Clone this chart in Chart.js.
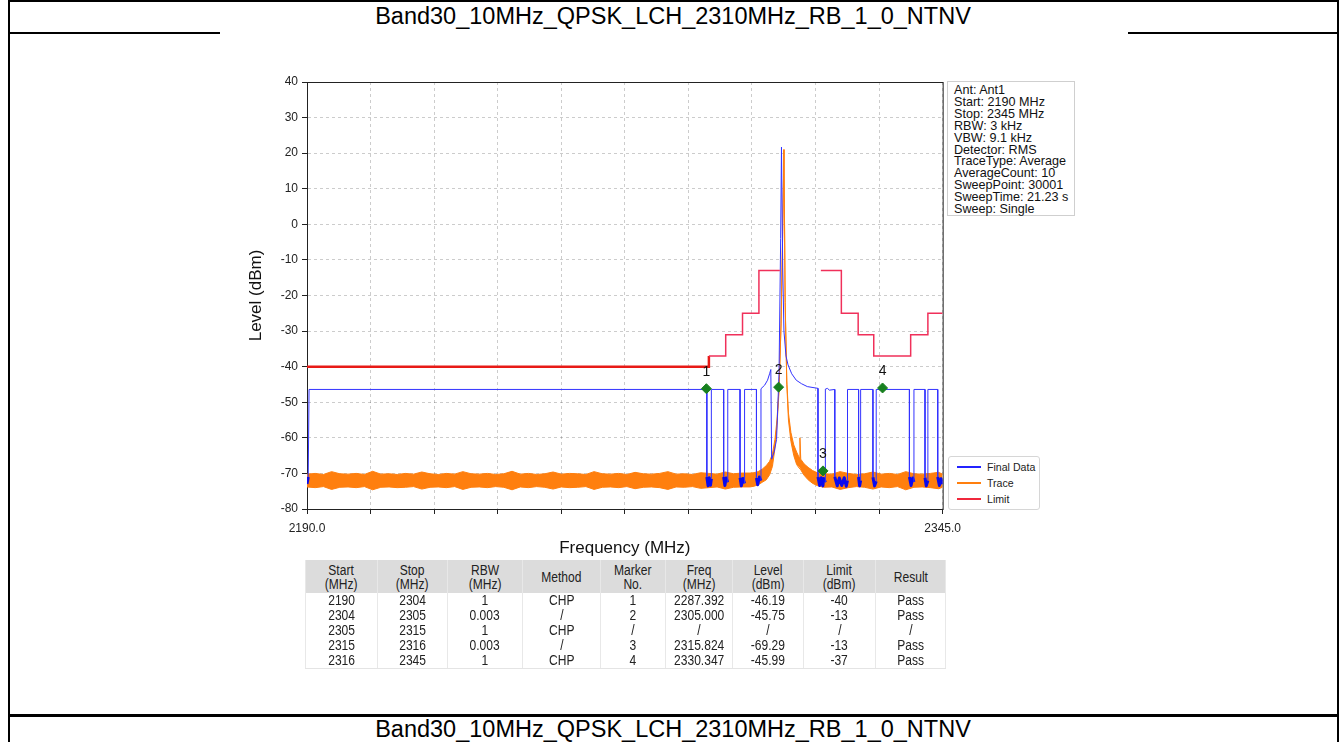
<!DOCTYPE html>
<html>
<head>
<meta charset="utf-8">
<script src="https://cdn.jsdelivr.net/npm/chart.js@4.4.1/dist/chart.umd.min.js"></script>
<style>
  html, body { margin: 0; padding: 0; background: #fff; }
  body { width: 1340px; height: 742px; position: relative; overflow: hidden; font-family: "Liberation Sans", Arial, sans-serif; }
  .line { position: absolute; background: #000; }
  .title { position: absolute; left: 9px; width: 1328px; text-align: center; font-size: 23.5px; line-height: 26px; color: #000; }
  #plotWrap { position: absolute; left: 228px; top: 70px; width: 740px; height: 495px; }
  #info { position: absolute; left: 947px; top: 81px; width: 128px; height: 135px; border: 1px solid #cfcfcf; background: #fff;
          font-size: 12.6px; line-height: 11.9px; padding: 3px 0 0 6px; box-sizing: border-box; color: #111; white-space: nowrap; }
  #legend { position: absolute; left: 948px; top: 456px; width: 92px; height: 54px; border: 1px solid #d6d6d6; border-radius: 3px;
            background: #fff; font-size: 10.6px; color: #222; box-sizing: border-box; }
  #legend .row { position: absolute; left: 0; height: 12px; }
  #legend .swatch { position: absolute; left: 8px; top: 5px; width: 24px; height: 2px; }
  #legend .lbl { position: absolute; left: 38px; top: 0; white-space: nowrap; }
  #tbl { position: absolute; left: 305px; top: 560px; width: 640px; border-collapse: collapse; table-layout: fixed;
         font-family: "Liberation Sans", Arial, sans-serif; font-size: 14px; color: #222; }
  #tbl th { background: #dcdcdc; font-weight: normal; line-height: 14px; height: 33px; padding: 0; border-left: 1px solid #e8e8e8; border-right: 1px solid #e8e8e8; }
  #tbl td { text-align: center; line-height: 15px; height: 15px; padding: 0; border-left: 1px solid #e8e8e8; border-right: 1px solid #e8e8e8; }
  #tbl span { display: inline-block; transform: scaleX(0.86); white-space: nowrap; }
  #tbl tbody tr:last-child td { border-bottom: 1px solid #e4e4e4; }
</style>
</head>
<body>
<div class="line" style="left:8px;top:0;width:1331px;height:2px"></div>
<div class="line" style="left:8px;top:0;width:2px;height:742px"></div>
<div class="line" style="left:1337px;top:0;width:2px;height:742px"></div>
<div class="line" style="left:8px;top:32px;width:212px;height:2px"></div>
<div class="line" style="left:1128px;top:32px;width:211px;height:2px"></div>
<div class="line" style="left:8px;top:714px;width:1331px;height:3px"></div>
<div class="title" style="top:3px">Band30_10MHz_QPSK_LCH_2310MHz_RB_1_0_NTNV</div>
<div class="title" style="top:716px">Band30_10MHz_QPSK_LCH_2310MHz_RB_1_0_NTNV</div>

<div id="plotWrap"><canvas id="spec" width="740" height="495"></canvas></div>
<div id="info"></div>
<div id="legend"></div>
<table id="tbl"><colgroup></colgroup><thead><tr></tr></thead><tbody></tbody></table>

<script>
// ---- spectrum data (MHz / dBm) ----
const xTickValues = [2190, 2205.5, 2221, 2236.5, 2252, 2267.5, 2283, 2298.5, 2314, 2329.5, 2345];
const yTickValues = [40, 30, 20, 10, 0, -10, -20, -30, -40, -50, -60, -70, -80];

// orange trace drawn as a band between its upper and lower edge
const traceFreq = [
  2190, 2192, 2194, 2196, 2198, 2200, 2202, 2204, 2206, 2208,
  2210, 2212, 2214, 2216, 2218, 2220, 2222, 2224, 2226, 2228,
  2230, 2232, 2234, 2236, 2238, 2240, 2242, 2244, 2246, 2248,
  2250, 2252, 2254, 2256, 2258, 2260, 2262, 2264, 2266, 2268,
  2270, 2272, 2274, 2276, 2278, 2280, 2282, 2284, 2286, 2288,
  2290, 2292, 2294, 2296, 2298,
  2299, 2300, 2301, 2302, 2302.8, 2303.5, 2304.1, 2304.6, 2305.1, 2305.6,
  2306.0, 2306.3, 2306.6, 2307.0, 2307.4, 2308.0, 2308.7, 2309.4, 2310.0, 2310.2,
  2310.4, 2311.2, 2312.2, 2313.3, 2314.4,
  2316, 2318, 2320, 2322, 2324, 2326, 2328, 2330, 2332, 2334,
  2336, 2338, 2340, 2342, 2344, 2345
];
const traceTop = [
  -70.2, -70.0, -70.3, -69.5, -70.1, -70.2, -70.0, -70.3, -69.4, -70.2,
  -70.1, -70.3, -70.0, -70.2, -69.6, -70.1, -70.3, -70.0, -70.2, -69.5,
  -70.1, -70.2, -70.0, -70.3, -70.1, -69.4, -70.2, -70.0, -70.3, -70.1,
  -69.6, -70.2, -70.0, -70.1, -70.3, -69.5, -70.1, -70.2, -70.0, -70.3,
  -69.7, -70.1, -70.2, -70.0, -69.5, -70.2, -70.1, -70.3, -69.8, -70.0,
  -70.2, -69.6, -70.1, -69.9, -69.9,
  -69.8, -69.5, -68.8, -67.8, -66.6, -64.5, -60.5, -55.0, -46.0, -28.0,
  -2.0, 21.0, -22.0, -44.0, -53.0, -58.5, -62.0, -64.0, -65.5, -60.0,
  -66.0, -67.3, -68.3, -69.2, -69.8,
  -70.1, -70.2, -69.5, -70.0, -70.3, -70.1, -69.6, -70.2, -70.0, -70.3,
  -69.5, -70.1, -70.2, -70.0, -69.7, -70.2
];
const traceBottom = [
  -73.8, -74.0, -73.7, -74.5, -73.9, -73.8, -74.0, -73.7, -74.6, -73.9,
  -73.8, -74.0, -73.9, -73.7, -74.4, -73.9, -73.8, -74.0, -73.7, -74.5,
  -73.9, -73.8, -74.0, -73.7, -73.9, -74.6, -73.8, -74.0, -73.7, -73.9,
  -74.4, -73.8, -74.0, -73.9, -73.7, -74.5, -73.9, -73.8, -74.0, -73.7,
  -74.3, -73.9, -73.8, -74.0, -74.5, -73.8, -73.9, -73.7, -74.2, -74.0,
  -73.8, -74.4, -73.9, -73.8, -73.8,
  -73.6, -73.2, -72.5, -71.8, -70.4, -68.0, -63.0, -56.5, -47.0, -28.0,
  -2.0, 21.0, -22.0, -45.0, -55.0, -61.0, -65.0, -67.5, -68.5, -68.5,
  -69.0, -70.5, -71.8, -72.8, -73.4,
  -73.9, -73.8, -74.5, -74.0, -73.7, -73.9, -74.4, -73.8, -74.0, -73.7,
  -74.6, -73.9, -73.8, -74.0, -74.3, -73.9
];

// blue "Final Data"
const finalFreq = [
  2190.0, 2190.3, 2190.5, 2287.5, 2287.5, 2287.8, 2288.1, 2288.4, 2288.6, 2288.6,
  2291.6, 2291.6, 2291.9, 2292.2, 2292.6, 2292.6, 2295.6, 2295.6, 2295.9, 2296.3,
  2296.7, 2296.7, 2299.6, 2299.6, 2299.9, 2300.3, 2300.7, 2300.7, 2301.6, 2302.3,
  2302.8, 2303.1, 2303.3, 2303.9, 2304.5, 2305.1, 2305.5, 2305.7, 2306.0, 2306.3,
  2306.8, 2307.3, 2308.2, 2309.3, 2310.6, 2312.0, 2314.6, 2314.6, 2315.0, 2315.4,
  2315.8, 2316.0, 2316.4, 2316.4, 2316.9, 2317.4, 2318.7, 2318.7, 2319.3, 2319.8,
  2320.4, 2321.0, 2321.5, 2321.8, 2321.8, 2324.5, 2324.5, 2324.75, 2325.0, 2325.0,
  2328.0, 2328.0, 2328.4, 2328.8, 2328.8, 2336.9, 2336.9, 2337.3, 2337.7, 2338.0,
  2338.0, 2340.7, 2340.7, 2341.0, 2341.4, 2341.4, 2343.8, 2343.8, 2344.2, 2344.6,
  2345.0
];
const finalLevel = [
  -73.0, -71.0, -46.4, -46.4, -71.0, -73.5, -71.2, -73.3, -71.5, -46.4,
  -46.4, -71.0, -73.4, -71.3, -72.5, -46.4, -46.4, -71.2, -73.5, -71.4,
  -72.8, -46.4, -46.4, -71.3, -73.2, -71.0, -72.0, -46.2, -45.2, -43.8,
  -42.0, -40.8, -66.0, -64.0, -60.5, -42.0, -4.0, 21.7, -12.0, -30.0,
  -37.0, -39.5, -42.0, -43.8, -44.8, -45.6, -46.1, -71.0, -73.4, -71.2,
  -73.5, -71.4, -72.5, -46.3, -46.1, -46.6, -46.4, -71.0, -73.5, -71.3,
  -73.4, -71.2, -73.6, -72.0, -46.4, -46.4, -71.0, -73.5, -72.0, -46.4,
  -46.4, -71.1, -73.5, -72.2, -46.4, -46.4, -71.0, -73.4, -71.3, -72.4,
  -46.4, -46.4, -71.2, -73.5, -72.0, -46.4, -46.4, -71.0, -73.4, -71.5,
  -73.0
];

// red limit line (null = gap around the carrier)
const limitFreq = [
  2190, 2288.0, 2288.0, 2292.1, 2292.1, 2296.2, 2296.2, 2300.2, 2300.2, 2305.3,
  2310.0,
  2315.3, 2320.3, 2320.3, 2324.4, 2324.4, 2328.2, 2328.2, 2337.2, 2337.2, 2341.4,
  2341.4, 2345
];
const limitLevel = [
  -40, -40, -37, -37, -31, -31, -25, -25, -13, -13,
  null,
  -13, -13, -25, -25, -31, -31, -37, -37, -31, -31,
  -25, -25
];

// markers
const markerNo = ['1', '2', '3', '4'];
const markerFreq = [2287.392, 2305.000, 2315.824, 2330.347];
const markerLevel = [-46.19, -45.75, -69.29, -45.99];

// side panels
const infoLines = ['Ant: Ant1', 'Start: 2190 MHz', 'Stop: 2345 MHz', 'RBW: 3 kHz', 'VBW: 9.1 kHz', 'Detector: RMS',
  'TraceType: Average', 'AverageCount: 10', 'SweepPoint: 30001', 'SweepTime: 21.23 s', 'Sweep: Single'];
const legendNames = ['Final Data', 'Trace', 'Limit'];
const legendColors = ['#2323ff', '#ff7f0e', '#f0283c'];

// result table
const tableHeaders = ['Start<br>(MHz)', 'Stop<br>(MHz)', 'RBW<br>(MHz)', 'Method', 'Marker<br>No.', 'Freq<br>(MHz)', 'Level<br>(dBm)', 'Limit<br>(dBm)', 'Result'];
const tableStart = ['2190', '2304', '2305', '2315', '2316'];
const tableStop = ['2304', '2305', '2315', '2316', '2345'];
const tableRbw = ['1', '0.003', '1', '0.003', '1'];
const tableMethod = ['CHP', '/', 'CHP', '/', 'CHP'];
const tableMarker = ['1', '2', '/', '3', '4'];
const tableFreq = ['2287.392', '2305.000', '/', '2315.824', '2330.347'];
const tableLevel = ['-46.19', '-45.75', '/', '-69.29', '-45.99'];
const tableLimit = ['-40', '-13', '/', '-13', '-37'];
const tableResult = ['Pass', 'Pass', '/', 'Pass', 'Pass'];
const tableColWidths = [72, 70, 75, 78, 65, 67, 71, 72, 70];

// ---- side panels ----
document.getElementById('info').innerHTML = infoLines.map(s => '<div>' + s + '</div>').join('');
document.getElementById('legend').innerHTML = legendNames.map((n, i) =>
  '<div class="row" style="top:' + (4 + i * 16) + 'px"><div class="swatch" style="background:' + legendColors[i] + '"></div>' +
  '<div class="lbl">' + n + '</div></div>').join('');

// ---- table ----
const tbl = document.getElementById('tbl');
tbl.querySelector('colgroup').innerHTML = tableColWidths.map(w => '<col style="width:' + w + 'px">').join('');
tbl.querySelector('thead tr').innerHTML = tableHeaders.map(h => '<th><span>' + h + '</span></th>').join('');
tbl.querySelector('tbody').innerHTML = tableStart.map((s, i) => '<tr>' +
  [s, tableStop[i], tableRbw[i], tableMethod[i], tableMarker[i], tableFreq[i], tableLevel[i], tableLimit[i], tableResult[i]]
    .map(v => '<td><span>' + v + '</span></td>').join('') + '</tr>').join('');

// ---- chart ----
const toPoints = (xs, ys) => xs.map((x, i) => ({ x: x, y: ys[i] }));

// solid frame around the plot area, and marker numbers
const framePlugin = {
  id: 'frame',
  beforeDatasetsDraw(chart) {
    const { ctx, chartArea: a } = chart;
    ctx.save();
    ctx.strokeStyle = '#222';
    ctx.lineWidth = 1;
    ctx.strokeRect(a.left + 0.5, a.top + 0.5, a.right - a.left, a.bottom - a.top);
    ctx.restore();
  },
  afterDatasetsDraw(chart) {
    const { ctx, scales } = chart;
    ctx.save();
    ctx.fillStyle = '#111';
    ctx.font = '14px "Liberation Sans", Arial, sans-serif';
    ctx.textAlign = 'center';
    ctx.textBaseline = 'middle';
    markerNo.forEach((n, i) => {
      ctx.fillText(n, scales.x.getPixelForValue(markerFreq[i]), scales.y.getPixelForValue(markerLevel[i]) - 17);
    });
    ctx.restore();
  }
};

const tickFont = { family: '"Liberation Sans", Arial, sans-serif', size: 12 };
const lowSeg = c => c.p0.parsed.y < -65 && c.p1.parsed.y < -65;

new Chart(document.getElementById('spec').getContext('2d'), {
  type: 'line',
  data: {
    datasets: [
      {
        label: 'Trace',
        data: toPoints(traceFreq, traceTop),
        borderColor: '#ff7f0e',
        backgroundColor: '#ff7f0e',
        borderWidth: 1,
        pointRadius: 0,
        fill: { target: 1 },
        order: 4
      },
      {
        label: 'TraceLow',
        data: toPoints(traceFreq, traceBottom),
        borderColor: '#ff7f0e',
        borderWidth: 1,
        pointRadius: 0,
        fill: false,
        order: 5
      },
      {
        label: 'Final Data',
        data: toPoints(finalFreq, finalLevel),
        borderColor: '#2323ff',
        borderWidth: 1,
        borderJoinStyle: 'round',
        pointRadius: 0,
        fill: false,
        segment: {
          borderWidth: c => lowSeg(c) ? 3 : 1,
          borderColor: c => lowSeg(c) ? '#0a0aee' : '#3333ff'
        },
        order: 3
      },
      {
        label: 'Limit',
        data: toPoints(limitFreq, limitLevel),
        borderColor: '#f0283c',
        borderWidth: 1.5,
        pointRadius: 0,
        fill: false,
        spanGaps: false,
        segment: {
          borderWidth: c => c.p1.parsed.x <= 2288.0 ? 2.5 : 1.5,
          borderColor: c => c.p1.parsed.x <= 2288.0 ? '#e81a16' : '#f0305a'
        },
        order: 2
      },
      {
        label: 'Markers',
        data: toPoints(markerFreq, markerLevel),
        showLine: false,
        pointStyle: 'rectRot',
        pointRadius: 5,
        pointBackgroundColor: '#17801f',
        pointBorderColor: '#17801f',
        order: 1
      }
    ]
  },
  options: {
    responsive: false,
    animation: false,
    events: [],
    layout: { padding: { left: 0, right: 23, top: 12, bottom: 0 } },
    plugins: { legend: { display: false }, tooltip: { enabled: false } },
    scales: {
      x: {
        type: 'linear',
        min: 2190,
        max: 2345,
        afterBuildTicks: s => { s.ticks = xTickValues.map(v => ({ value: v })); },
        afterFit: s => { s.height = 56; },
        ticks: {
          autoSkip: false,
          maxRotation: 0,
          padding: 7,
          color: '#222',
          font: tickFont,
          callback: (v, i, arr) => (i === 0 || i === arr.length - 1) ? Number(v).toFixed(1) : ''
        },
        grid: { color: 'rgba(0,0,0,0.2)', tickColor: '#222', tickLength: 5, lineWidth: 1 },
        border: { color: '#222', width: 1, dash: [3, 3] },
        title: { display: true, text: 'Frequency (MHz)', color: '#111', font: { family: '"Liberation Sans", Arial, sans-serif', size: 17 }, padding: { top: 0, bottom: 6 } }
      },
      y: {
        type: 'linear',
        min: -80,
        max: 40,
        afterBuildTicks: s => { s.ticks = yTickValues.map(v => ({ value: v })); },
        afterFit: s => { s.width = 79; },
        ticks: { padding: 4, color: '#222', font: tickFont },
        grid: { color: 'rgba(0,0,0,0.2)', tickColor: '#222', tickLength: 5, lineWidth: 1 },
        border: { color: '#222', width: 1, dash: [3, 3] },
        title: { display: true, text: 'Level (dBm)', color: '#111', font: { family: '"Liberation Sans", Arial, sans-serif', size: 17 }, padding: { top: 18, bottom: 0 } }
      }
    }
  },
  plugins: [framePlugin]
});
</script>
</body>
</html>
